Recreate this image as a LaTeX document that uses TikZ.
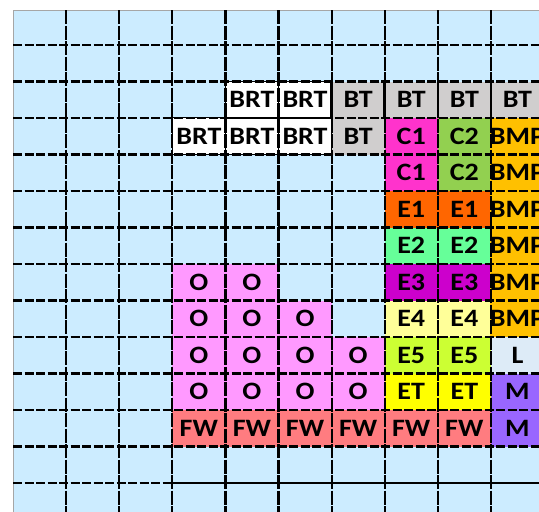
\documentclass[tikz,border=0pt]{standalone}
\usepackage{fontspec}
\newfontfamily\cellfont{Carlito}[FakeStretch=1.12]
\definecolor{bgblue}{HTML}{CCECFF}
\definecolor{btgray}{HTML}{D0CECE}
\definecolor{cone}{HTML}{FF33CC}
\definecolor{ctwo}{HTML}{92D050}
\definecolor{bmp}{HTML}{FFC000}
\definecolor{eone}{HTML}{FF6600}
\definecolor{etwo}{HTML}{66FF99}
\definecolor{ethree}{HTML}{CC00CC}
\definecolor{efour}{HTML}{FFFF99}
\definecolor{efive}{HTML}{CCFF33}
\definecolor{etc}{HTML}{FFFF00}
\definecolor{lcol}{HTML}{DDEBF7}
\definecolor{mcol}{HTML}{9966FF}
\definecolor{ocol}{HTML}{FF99FF}
\definecolor{fw}{HTML}{FF7C80}
\definecolor{brt}{HTML}{FFFFFF}
\tikzset{
  cellbox/.style={minimum width=53.1pt, minimum height=36.5pt, inner sep=0pt, anchor=center,
    font=\cellfont\bfseries\fontsize{25}{25}\selectfont, text=black},
  hline/.style={line width=2.2pt, black, dash pattern=on 9pt off 2.5pt},
  vline/.style={line width=2.2pt, black, dash pattern=on 14pt off 1.5pt},
  solidline/.style={line width=2.2pt, black},
  brtborder/.style={line width=1.2pt, black}
}
\begin{document}
\begin{tikzpicture}[x=1pt,y=-1pt]
\useasboundingbox (0,0) rectangle (539,512);
\clip (0,0) rectangle (539,512);
% background
\fill[bgblue] (13,10) rectangle (560,530);
\draw[gray!70, line width=0.8pt] (13,530) -- (13,10) -- (560,10);
% cells: col/row/label/colour
\foreach \c/\r/\t/\f in {
  4/2/BRT/brt, 5/2/BRT/brt, 6/2/BT/btgray, 7/2/BT/btgray, 8/2/BT/btgray, 9/2/BT/btgray,
  3/3/BRT/brt, 4/3/BRT/brt, 5/3/BRT/brt, 6/3/BT/btgray, 7/3/C1/cone, 8/3/C2/ctwo, 9/3/BMP/bmp,
  7/4/C1/cone, 8/4/C2/ctwo, 9/4/BMP/bmp,
  7/5/E1/eone, 8/5/E1/eone, 9/5/BMP/bmp,
  7/6/E2/etwo, 8/6/E2/etwo, 9/6/BMP/bmp,
  3/7/O/ocol, 4/7/O/ocol, 7/7/E3/ethree, 8/7/E3/ethree, 9/7/BMP/bmp,
  3/8/O/ocol, 4/8/O/ocol, 5/8/O/ocol, 7/8/E4/efour, 8/8/E4/efour, 9/8/BMP/bmp,
  3/9/O/ocol, 4/9/O/ocol, 5/9/O/ocol, 6/9/O/ocol, 7/9/E5/efive, 8/9/E5/efive, 9/9/L/lcol,
  3/10/O/ocol, 4/10/O/ocol, 5/10/O/ocol, 6/10/O/ocol, 7/10/ET/etc, 8/10/ET/etc, 9/10/M/mcol,
  3/11/FW/fw, 4/11/FW/fw, 5/11/FW/fw, 6/11/FW/fw, 7/11/FW/fw, 8/11/FW/fw, 9/11/M/mcol}
{
  \pgfmathsetmacro{\cx}{13+53.1*\c+26.55}
  \pgfmathsetmacro{\cy}{45+36.5*(\r-1)+18.25}
  \node[cellbox, fill=\f] (cell-\c-\r) at (\cx,\cy) {\raisebox{-1.5pt}{\t}};
}
% grid lines
\foreach \j in {1,...,14} {
  \pgfmathsetmacro{\yy}{45+36.5*(\j-1)}
  \draw[hline] (13,\yy) -- (560,\yy);
}
\foreach \k in {1,...,10} {
  \pgfmathsetmacro{\xx}{13+53.1*\k}
  \draw[vline] (\xx,10) -- (\xx,530);
}
% solid borders of the BRT cells
\foreach \c/\r in {4/2,5/2,3/3,4/3,5/3} {
  \draw[brtborder] (cell-\c-\r.north west) rectangle (cell-\c-\r.south east);
}
% solid separators in the BT row
\foreach \c in {6,7,8,9} {
  \draw[solidline] (cell-\c-2.north west) -- (cell-\c-2.south west);
}
% solid bottom line
\coordinate (bl) at (172.3,483);
\coordinate (br) at (560,483);
\draw[solidline] (bl) -- (br);
\end{tikzpicture}
\end{document}
